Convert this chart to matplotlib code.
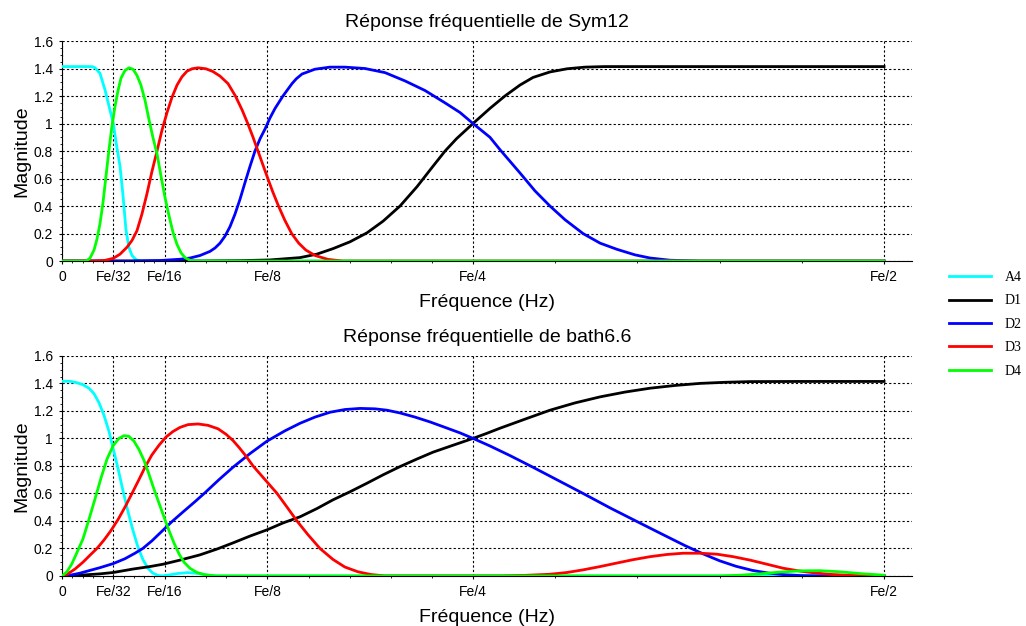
import numpy as np
import matplotlib.pyplot as plt

plt.rcParams['font.family'] = ['Liberation Sans', 'DejaVu Sans']

# ---- Sym12 (frequence en fraction de Fe, magnitude) ----
sym_a4_f = [0, 0.0170, 0.0185, 0.0201, 0.0231, 0.0262, 0.0292, 0.03125, 0.0328, 0.0353, 0.0371,
            0.0389, 0.0407, 0.0426, 0.0450, 0.0474, 0.5]
sym_a4_m = [1.414, 1.414, 1.413, 1.405, 1.365, 1.244, 1.098, 1.0, 0.87, 0.69, 0.48,
            0.23, 0.1, 0.04, 0.01, 0.0, 0.0]

sym_d1_f = [0, 0.0839, 0.1083, 0.1265, 0.1448, 0.1550, 0.1648, 0.1752, 0.1855, 0.1953, 0.2056,
            0.2159, 0.2257, 0.2330, 0.2400, 0.2500, 0.2603, 0.2694, 0.2786, 0.2865, 0.2968,
            0.3072, 0.3181, 0.3300, 0.5]
sym_d1_m = [0, 0, 0.003, 0.008, 0.025, 0.05, 0.09, 0.14, 0.205, 0.29, 0.40,
            0.54, 0.69, 0.8, 0.89, 1.0, 1.11, 1.2, 1.28, 1.335, 1.375,
            1.398, 1.41, 1.414, 1.414]

sym_d2_f = [0, 0.0413, 0.0596, 0.0718, 0.0779, 0.0839, 0.0900, 0.0931, 0.0961, 0.0991, 0.1022,
            0.1052, 0.1083, 0.1113, 0.1144, 0.1174, 0.1205, 0.1235, 0.1265, 0.1296, 0.1344,
            0.1399, 0.1425, 0.1460, 0.1539, 0.1630, 0.1721, 0.1843, 0.1965, 0.2086, 0.2208,
            0.2330, 0.2421, 0.2500, 0.2603, 0.2664, 0.2786, 0.2877, 0.2968, 0.3060, 0.3169,
            0.3273, 0.3376, 0.3485, 0.3577, 0.3698, 0.3881, 0.5]
sym_d2_m = [0, 0, 0.004, 0.013, 0.022, 0.04, 0.07, 0.095, 0.13, 0.18, 0.25,
            0.34, 0.45, 0.57, 0.69, 0.8, 0.89, 0.96, 1.04, 1.11, 1.2,
            1.29, 1.325, 1.36, 1.395, 1.41, 1.41, 1.40, 1.37, 1.31, 1.24,
            1.15, 1.08, 1.0, 0.9, 0.81, 0.64, 0.51, 0.40, 0.30, 0.2,
            0.13, 0.085, 0.045, 0.022, 0.006, 0, 0]

sym_d3_f = [0, 0.0201, 0.0262, 0.03125, 0.0353, 0.0395, 0.0426, 0.0456, 0.0486, 0.0517, 0.0547,
            0.0578, 0.0608, 0.0639, 0.0669, 0.0700, 0.0730, 0.0760, 0.0791, 0.0827, 0.0876,
            0.0918, 0.0961, 0.1010, 0.1055, 0.1095, 0.1130, 0.1162, 0.1192, 0.1222, 0.1252,
            0.1283, 0.1317, 0.1354, 0.1397, 0.1440, 0.1483, 0.1540, 0.1618, 0.1709, 0.5]
sym_d3_m = [0, 0, 0.005, 0.02, 0.05, 0.1, 0.15, 0.22, 0.34, 0.49, 0.65,
            0.8, 0.95, 1.08, 1.19, 1.28, 1.34, 1.38, 1.398, 1.405, 1.398,
            1.378, 1.345, 1.29, 1.2, 1.1, 1.0, 0.9, 0.8, 0.7, 0.6,
            0.5, 0.4, 0.3, 0.2, 0.13, 0.08, 0.04, 0.012, 0, 0]

sym_d4_f = [0, 0.0146, 0.0170, 0.0195, 0.0213, 0.0231, 0.0249, 0.0268, 0.0286, 0.0304, 0.0322,
            0.0341, 0.0359, 0.0383, 0.0407, 0.0432, 0.0456, 0.0480, 0.0505, 0.0529, 0.0553,
            0.0578, 0.0602, 0.0627, 0.0651, 0.0675, 0.0700, 0.0724, 0.0748, 0.0779, 0.0809, 0.5]
sym_d4_m = [0, 0, 0.02, 0.08, 0.16, 0.27, 0.42, 0.62, 0.81, 0.98, 1.12,
            1.24, 1.33, 1.385, 1.405, 1.395, 1.35, 1.28, 1.17, 1.03, 0.9,
            0.78, 0.62, 0.46, 0.33, 0.21, 0.12, 0.06, 0.025, 0.005, 0, 0]

# ---- bath6.6 ----
bath_a4_f = [0, 0.0049, 0.0091, 0.0128, 0.0164, 0.0195, 0.0225, 0.0255, 0.0286, 0.03125, 0.0341,
             0.0371, 0.0401, 0.0432, 0.0462, 0.0492, 0.0523, 0.0553, 0.0584, 0.0614, 0.0657,
             0.0706, 0.0766, 0.0827, 0.0888, 0.0949, 0.4124, 0.4307, 0.4489, 0.4672, 0.5]
bath_a4_m = [1.415, 1.415, 1.405, 1.39, 1.365, 1.325, 1.26, 1.17, 1.05, 0.92, 0.78,
             0.62, 0.47, 0.33, 0.21, 0.12, 0.055, 0.02, 0.003, 0.0, 0.008,
             0.018, 0.024, 0.018, 0.006, 0, 0, 0.006, 0.006, 0, 0]

bath_d1_f = [0, 0.0109, 0.0231, 0.03125, 0.0432, 0.0535, 0.0614, 0.0718, 0.0839, 0.0942, 0.1040,
             0.1144, 0.1247, 0.1344, 0.1448, 0.1551, 0.1648, 0.1752, 0.1855, 0.1953, 0.2056,
             0.2159, 0.2257, 0.2378, 0.2500, 0.2580, 0.2664, 0.2816, 0.2968, 0.3120, 0.3273,
             0.3425, 0.3577, 0.3729, 0.3881, 0.4033, 0.4185, 0.4489, 0.5]
bath_d1_m = [0, 0.005, 0.015, 0.025, 0.05, 0.068, 0.085, 0.115, 0.153, 0.195, 0.24,
             0.29, 0.335, 0.385, 0.43, 0.49, 0.553, 0.612, 0.674, 0.735, 0.795,
             0.85, 0.9, 0.95, 1.0, 1.035, 1.074, 1.14, 1.205, 1.258, 1.302,
             1.337, 1.365, 1.385, 1.40, 1.408, 1.413, 1.414, 1.414]

bath_d2_f = [0, 0.0049, 0.0109, 0.0170, 0.0231, 0.03125, 0.0383, 0.0444, 0.0492, 0.0547, 0.0608,
             0.0669, 0.0736, 0.0809, 0.0870, 0.0955, 0.1040, 0.1144, 0.1247, 0.1356, 0.1448,
             0.1539, 0.1630, 0.1721, 0.1813, 0.1904, 0.1977, 0.2056, 0.2147, 0.2238, 0.2330,
             0.2421, 0.2500, 0.2603, 0.2725, 0.2865, 0.3017, 0.3169, 0.3333, 0.3498, 0.3656,
             0.3790, 0.3900, 0.4000, 0.4100, 0.4200, 0.4300, 0.4400, 0.4500, 0.4600, 0.5]
bath_d2_m = [0, 0.005, 0.02, 0.04, 0.06, 0.09, 0.125, 0.165, 0.2, 0.255, 0.325,
             0.395, 0.465, 0.54, 0.605, 0.70, 0.79, 0.89, 0.98, 1.055, 1.11,
             1.155, 1.19, 1.21, 1.218, 1.215, 1.205, 1.185, 1.155, 1.12, 1.08,
             1.04, 1.0, 0.945, 0.875, 0.79, 0.695, 0.6, 0.495, 0.395, 0.3,
             0.22, 0.16, 0.11, 0.07, 0.04, 0.02, 0.008, 0.002, 0, 0]

bath_d3_f = [0, 0.0036, 0.0079, 0.0128, 0.0170, 0.0213, 0.0255, 0.0298, 0.0341, 0.0383, 0.0426,
             0.0468, 0.0505, 0.0547, 0.0590, 0.0633, 0.0675, 0.0718, 0.0766, 0.0827, 0.0888,
             0.0949, 0.0998, 0.1040, 0.1080, 0.1120, 0.1162, 0.1235, 0.1308, 0.1369, 0.1429,
             0.1496, 0.1569, 0.1648, 0.1720, 0.1800, 0.1880, 0.1965, 0.2664, 0.2816, 0.2968,
             0.3072, 0.3169, 0.3273, 0.3376, 0.3473, 0.3577, 0.3680, 0.3777, 0.3881, 0.3984,
             0.4082, 0.4185, 0.4288, 0.4386, 0.4489, 0.4592, 0.4690, 0.4793, 0.4915, 0.5]
bath_d3_m = [0, 0.015, 0.05, 0.1, 0.15, 0.2, 0.26, 0.33, 0.41, 0.5, 0.6,
             0.7, 0.79, 0.88, 0.95, 1.01, 1.05, 1.08, 1.1, 1.105, 1.095,
             1.07, 1.03, 0.985, 0.93, 0.87, 0.8, 0.7, 0.6, 0.5, 0.4,
             0.3, 0.2, 0.12, 0.065, 0.03, 0.01, 0.0, 0, 0.004, 0.012,
             0.025, 0.044, 0.068, 0.094, 0.118, 0.14, 0.156, 0.165, 0.165, 0.158,
             0.14, 0.115, 0.085, 0.056, 0.035, 0.02, 0.01, 0.004, 0.001, 0]

bath_d4_f = [0, 0.0030, 0.0061, 0.0091, 0.0128, 0.0164, 0.0201, 0.0237, 0.0274, 0.03125, 0.0347,
             0.0377, 0.0407, 0.0438, 0.0468, 0.0499, 0.0529, 0.0560, 0.0590, 0.0620, 0.0651,
             0.0681, 0.0712, 0.0742, 0.0779, 0.0821, 0.0870, 0.0931, 0.4002, 0.4124, 0.4246,
             0.4367, 0.4489, 0.4611, 0.4732, 0.4854, 0.5]
bath_d4_m = [0, 0.03, 0.09, 0.17, 0.27, 0.41, 0.56, 0.71, 0.85, 0.95, 1.0,
             1.02, 1.015, 0.98, 0.92, 0.84, 0.74, 0.63, 0.53, 0.43, 0.33,
             0.24, 0.16, 0.1, 0.055, 0.025, 0.008, 0, 0, 0.005, 0.015,
             0.028, 0.037, 0.038, 0.03, 0.017, 0.005]

labels = ['A4', 'D1', 'D2', 'D3', 'D4']
colors = ['#00ffff', '#000000', '#0000ff', '#ff0000', '#00ff00']
titles = ['Réponse fréquentielle de Sym12', 'Réponse fréquentielle de bath6.6']

x_ticks = [0, 1/32, 1/16, 1/8, 1/4, 1/2]
x_labels = ['0', 'Fe/32', 'Fe/16', 'Fe/8', 'Fe/4', 'Fe/2']
y_ticks = [0, 0.2, 0.4, 0.6, 0.8, 1.0, 1.2, 1.4, 1.6]
y_labels = ['0', '0.2', '0.4', '0.6', '0.8', '1', '1.2', '1.4', '1.6']

data = [
    [(sym_a4_f, sym_a4_m), (sym_d1_f, sym_d1_m), (sym_d2_f, sym_d2_m), (sym_d3_f, sym_d3_m), (sym_d4_f, sym_d4_m)],
    [(bath_a4_f, bath_a4_m), (bath_d1_f, bath_d1_m), (bath_d2_f, bath_d2_m), (bath_d3_f, bath_d3_m), (bath_d4_f, bath_d4_m)],
]

fig = plt.figure(figsize=(10.26, 6.26), dpi=100)
ax_top = fig.add_axes([0.0604, 0.583, 0.8285, 0.3515])
ax_bot = fig.add_axes([0.0604, 0.080, 0.8285, 0.3515])

# sous-graduations : 4 entre chaque paire de graduations principales
minor = []
for a, b in zip(x_ticks[:-1], x_ticks[1:]):
    minor += list(np.linspace(a, b, 6)[1:-1])

handles = []
for ax, series, title in zip([ax_top, ax_bot], data, titles):
    for (f, m), c, lab in zip(series, colors, labels):
        h, = ax.plot(f, m, color=c, lw=2.0, label=lab, zorder=3,
                     solid_joinstyle='round')
        if ax is ax_top:
            handles.append(h)
    ax.set_xlim(0, 0.517)
    ax.set_ylim(0, 1.6)
    ax.set_xticks(x_ticks)
    ax.set_xticklabels(x_labels)
    ax.set_xticks(minor, minor=True)
    ax.set_yticks(y_ticks)
    ax.set_yticklabels(y_labels)
    ax.set_yticks(np.arange(0, 1.61, 0.05), minor=True)
    ax.grid(True, which='major', linestyle=(0, (2, 2)), color='black', linewidth=0.8, zorder=1)
    ax.tick_params(which='both', direction='out', labelsize=10, color='black', pad=4)
    ax.tick_params(which='major', length=2.5)
    ax.tick_params(which='minor', length=1.5)
    ax.spines['top'].set_visible(False)
    ax.spines['right'].set_visible(False)
    ax.set_title(title, fontsize=14, pad=10)
    ax.set_xlabel('Fréquence (Hz)', fontsize=14, labelpad=7.5)
    ax.set_ylabel('Magnitude', fontsize=14, labelpad=2)

fig.legend(handles, labels, loc='upper left', bbox_to_anchor=(0.925, 0.567),
           frameon=False, borderpad=0, borderaxespad=0, handlelength=3.0,
           handletextpad=1.0, labelspacing=0.75,
           prop={'family': 'Liberation Serif', 'size': 10})

fig.savefig('out.png', dpi=100)
